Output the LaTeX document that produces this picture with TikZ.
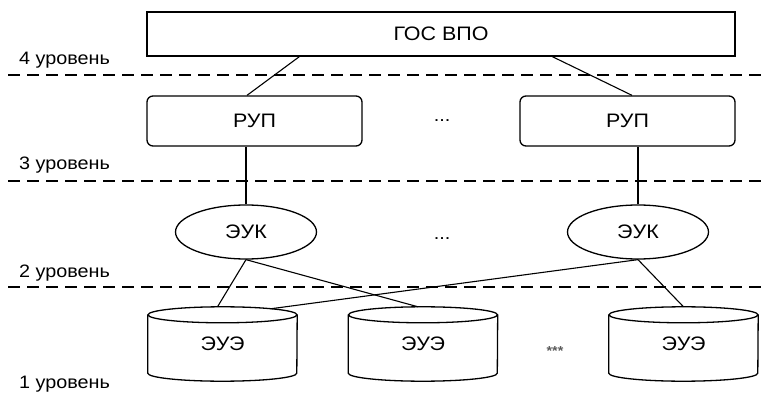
\documentclass[tikz,border=0pt]{standalone}
\usepackage{fontspec}
\setmainfont{Liberation Sans}[FakeStretch=1.1]
\usetikzlibrary{shapes.geometric,calc}
\tikzset{
  lbl/.style={font=\fontsize{18}{20}\selectfont, anchor=base west, inner sep=0},
  boxfont/.style={font=\fontsize{19.5}{22}\selectfont},
  gosbox/.style={draw, boxfont, line width=1.3pt, minimum width=588pt, minimum height=44pt, inner sep=0},
  rupbox/.style={draw, boxfont, line width=1.3pt, rounded corners=6pt, minimum width=215pt, minimum height=50pt, inner sep=0},
  eukbox/.style={draw, boxfont, ellipse, line width=1.3pt, minimum width=141pt, minimum height=54pt, inner sep=0},
  cylbox/.style={boxfont, minimum width=149pt, minimum height=74pt, inner sep=0},
  cylline/.style={line width=1.3pt},
  conn/.style={line width=1.1pt},
  levelline/.style={line width=1.5pt, dash pattern=on 12pt off 7pt},
  dotsnode/.style={font=\fontsize{18}{20}\selectfont, inner sep=0},
}
\newcommand{\mycyl}[3]{%
  \node[cylbox] (#1) at (#2,344) {#3};
  \draw[cylline] ([yshift=-8pt]#1.north west) -- ([yshift=8pt]#1.south west)
     arc[start angle=180, end angle=360, x radius=74.5pt, y radius=8pt]
     -- ([yshift=-8pt]#1.north east);
  \draw[cylline] ([yshift=-8pt]#1.north) ellipse [x radius=74.5pt, y radius=8pt];
}
\begin{document}
\begin{tikzpicture}[x=1pt,y=-1pt]
\useasboundingbox (0,0) rectangle (766,398);
% level lines
\draw[levelline] (8,75) -- (766,75);
\draw[levelline] (8,181) -- (766,181);
\draw[levelline] (8,287) -- (766,287);
% level labels
\node[lbl] (l4) at (19,65) {4 уровень};
\node[lbl] (l3) at (19,170) {3 уровень};
\node[lbl] (l2) at (19,277) {2 уровень};
\node[lbl] (l1) at (19,388) {1 уровень};
% nodes
\node[gosbox] (gos) at (441,34) {ГОС ВПО};
\node[rupbox] (rup1) at (254.5,121) {РУП};
\node[rupbox] (rup2) at (627.5,121) {РУП};
\node[dotsnode] (d1) at (442,121) {...};
\node[eukbox] (euk1) at (246,232) {ЭУК};
\node[eukbox] (euk2) at (638,232) {ЭУК};
\node[dotsnode] (d2) at (442,239) {...};
\mycyl{cyl1}{222.5}{ЭУЭ}
\mycyl{cyl2}{423}{ЭУЭ}
\mycyl{cyl3}{683.5}{ЭУЭ}
\node[font=\fontsize{13}{14}\selectfont\bfseries, text=black!65, inner sep=0] (d3) at (555,351) {***};
% connectors
\draw[conn] ($(gos.south west)+(153,0)$) -- ($(rup1.north)+(-7.5,0)$);
\draw[conn] ($(gos.south west)+(406,0)$) -- ($(rup2.north)+(4.5,0)$);
\draw[conn] (euk1.north) -- (euk1.north |- rup1.south);
\draw[conn] (euk2.north) -- (euk2.north |- rup2.south);
\draw[conn] (euk1.south) -- ($(cyl1.north)+(-5,0)$);
\draw[conn] (euk1.south) -- ($(cyl2.north)+(-5,0)$);
\draw[conn] (euk2.south) -- ($(cyl1.north)+(48,2)$);
\draw[conn] (euk2.south) -- (cyl3.north);
\end{tikzpicture}
\end{document}
